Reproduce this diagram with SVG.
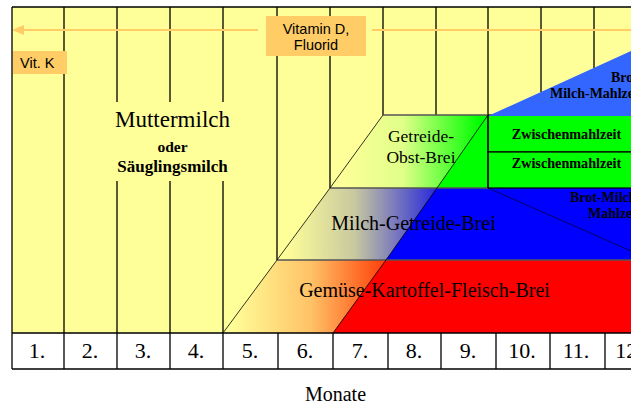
<svg xmlns="http://www.w3.org/2000/svg" width="631" height="404" viewBox="0 0 631 404">
<defs>
<linearGradient id="gOrange" gradientUnits="userSpaceOnUse" x1="230" y1="0" x2="392" y2="0">
<stop offset="0" stop-color="#FFFF99"/>
<stop offset="0.5" stop-color="#FFC266"/>
<stop offset="1" stop-color="#FF3300"/>
</linearGradient>
<linearGradient id="gBlue" gradientUnits="userSpaceOnUse" x1="285" y1="0" x2="440" y2="0">
<stop offset="0" stop-color="#FFFF99"/>
<stop offset="0.45" stop-color="#C8C8A0"/>
<stop offset="1" stop-color="#2222DD"/>
</linearGradient>
<linearGradient id="gGreen" gradientUnits="userSpaceOnUse" x1="340" y1="0" x2="480" y2="0">
<stop offset="0" stop-color="#FFFF99"/>
<stop offset="0.45" stop-color="#E0FF88"/>
<stop offset="1" stop-color="#00FF00"/>
</linearGradient>
</defs>
<style>
.grid{stroke:#000;stroke-width:1.3;fill:none}
.band{stroke:#555;stroke-width:1.3;fill:none}
.slant{stroke:#000;stroke-width:0.8;fill:none}
.serif{font-family:"Liberation Serif","Times New Roman",serif;fill:#000}
.bold{font-weight:bold}
.sans{font-family:"Liberation Sans",Arial,sans-serif;fill:#000;font-size:14.5px}
.num{font-family:"Liberation Serif","Times New Roman",serif;font-size:22px;text-anchor:middle}
.box{fill:#FFCC66}
</style>
<rect x="0" y="0" width="631" height="404" fill="#FFFFFF"/>
<rect x="12" y="7" width="619" height="326" fill="#FFFF99"/>

<g id="grid-lines">
<path class="grid" d="M64 7V333M117 7V102M117 181V333M170 7V102M170 181V333M223 7V102M223 181V333M277 7V260M330 7V188M383 7V115M436 7V115M488 7V188M541 7V92M594 7V68"/>
</g>

<g id="gemuese-brei">
<polygon points="223,333 277,260 631,260 631,333" fill="url(#gOrange)"/>
<polygon points="333,333 386,260 631,260 631,333" fill="#FF0000"/>
<text class="serif" x="424.5" y="297" font-size="20" text-anchor="middle">Gemüse-Kartoffel-Fleisch-Brei</text>
</g>

<g id="milch-getreide-brei">
<polygon points="277,260 330,188 631,188 631,260" fill="url(#gBlue)"/>
<polygon points="386,260 437,188 631,188 631,260" fill="#0000FF"/>
<line x1="488" y1="188" x2="631" y2="251" stroke="#000066" stroke-width="1"/>
<text class="serif" x="413.5" y="230" font-size="20" text-anchor="middle">Milch-Getreide-Brei</text>
</g>

<g id="brot-milch-mahlzeit-2">
<text class="serif bold" x="570" y="202" font-size="14">Brot-Milch-</text>
<text class="serif bold" x="588" y="218" font-size="14">Mahlzeit</text>
</g>

<g id="getreide-obst-brei">
<polygon points="330,188 383,115 488,115 488,188" fill="url(#gGreen)"/>
<polygon points="437,188 488,115 488,188" fill="#00FF00"/>
<text class="serif" x="421" y="142" font-size="17.5" text-anchor="middle">Getreide-</text>
<text class="serif" x="421" y="163" font-size="17.5" text-anchor="middle">Obst-Brei</text>
</g>

<g id="zwischenmahlzeit-1">
<rect x="488" y="115" width="150" height="37" fill="#00FF00" stroke="#000" stroke-width="1.2"/>
<text class="serif bold" x="566.5" y="139" font-size="14.2" text-anchor="middle">Zwischenmahlzeit</text>
</g>
<g id="zwischenmahlzeit-2">
<rect x="488" y="152" width="150" height="36" fill="#00FF00" stroke="#000" stroke-width="1.2"/>
<text class="serif bold" x="566.5" y="168" font-size="14.2" text-anchor="middle">Zwischenmahlzeit</text>
</g>

<g id="brot-milch-mahlzeit-1">
<polygon points="488,116 631,51 631,116" fill="#3366FF"/>
<text class="serif bold" x="611" y="82" font-size="14">Brot-</text>
<text class="serif bold" x="550" y="98" font-size="14">Milch-Mahlzeit</text>
</g>

<g id="band-outlines">
<path class="band" d="M277 260H631M330 188H488M383 115H488"/>
<path class="slant" d="M223 333L277 260L330 188L383 115M333 333L386 260L437 188L488 115"/>
<path class="grid" d="M488 115V188"/>
</g>

<g id="muttermilch">
<text class="serif" x="172.5" y="127" font-size="23" text-anchor="middle">Muttermilch</text>
<text class="serif bold" x="172.5" y="152" font-size="15.5" text-anchor="middle">oder</text>
<text class="serif bold" x="172.5" y="172" font-size="17" text-anchor="middle">Säuglingsmilch</text>
</g>

<g id="connectors">
<path d="M24 30H258M372 30H631" stroke="#FFCC66" stroke-width="2.2" fill="none"/>
<polygon points="12,30 24,25 24,35" fill="#FFCC66"/>
</g>

<g id="vitamin-d">
<rect class="box" x="266" y="16" width="100" height="40"/>
<text class="sans" x="316" y="34" text-anchor="middle">Vitamin D,</text>
<text class="sans" x="316" y="50" text-anchor="middle">Fluorid</text>
</g>

<g id="vit-k">
<rect class="box" x="13" y="51" width="54" height="23"/>
<text class="sans" x="20" y="68">Vit. K</text>
</g>

<g id="axis">
<rect x="12" y="333" width="625" height="36" fill="#FFFFFF"/>
<path class="grid" d="M12 7H631M12 7V369M12 333H631M12 369H631M64 333V369M117 333V369M170 333V369M223 333V369M278 333V369M333 333V369M388 333V369M441 333V369M496 333V369M550 333V369M605 333V369"/>
<text class="num" x="37" y="358">1.</text>
<text class="num" x="90" y="358">2.</text>
<text class="num" x="143" y="358">3.</text>
<text class="num" x="196" y="358">4.</text>
<text class="num" x="250" y="358">5.</text>
<text class="num" x="305" y="358">6.</text>
<text class="num" x="360" y="358">7.</text>
<text class="num" x="414" y="358">8.</text>
<text class="num" x="468" y="358">9.</text>
<text class="num" x="522" y="358">10.</text>
<text class="num" x="576" y="358">11.</text>
<text class="num" x="629" y="358">12.</text>
<text class="serif" x="335.5" y="401" font-size="20" text-anchor="middle">Monate</text>
</g>
</svg>
